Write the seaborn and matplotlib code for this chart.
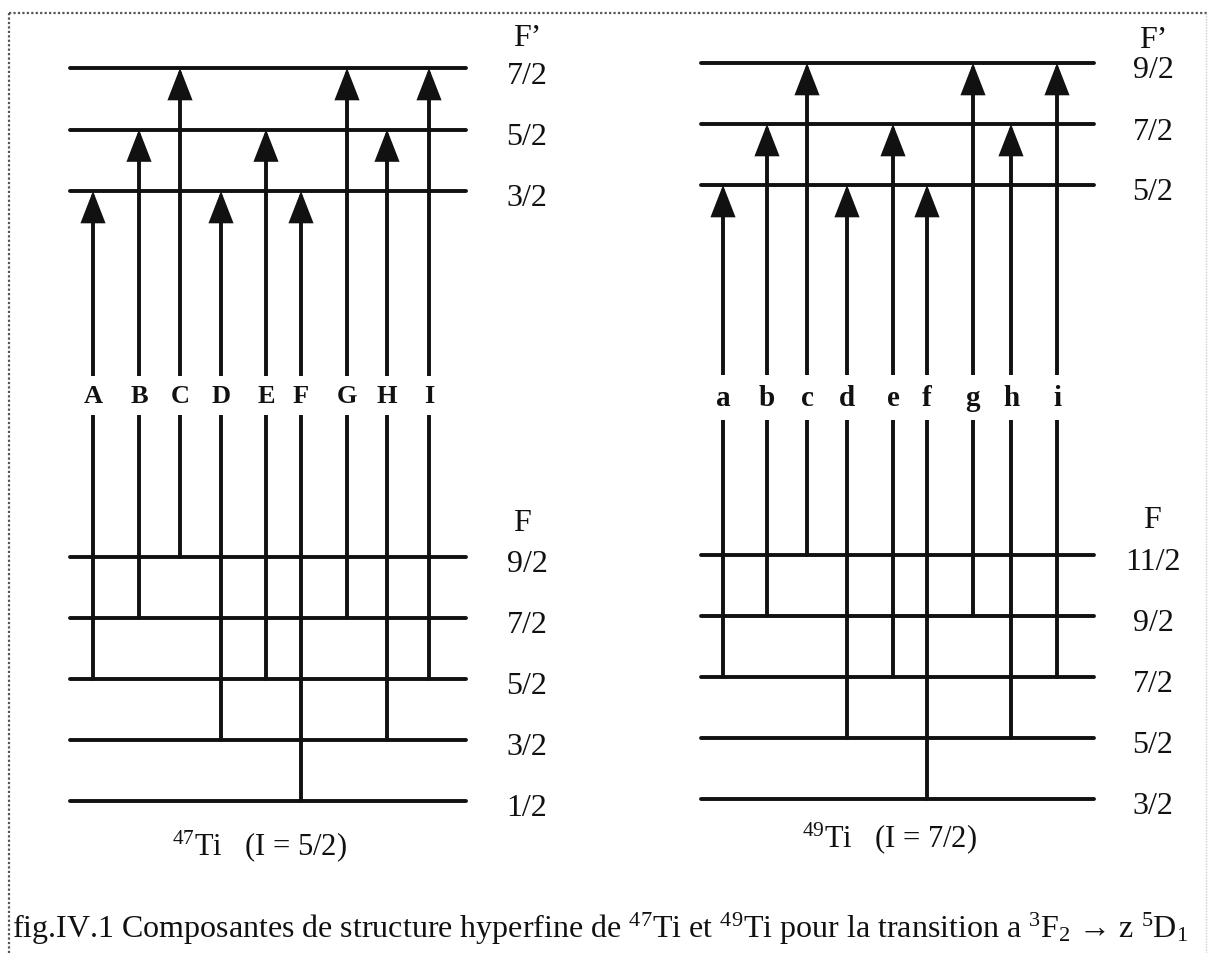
import matplotlib
matplotlib.use("Agg")
import matplotlib.pyplot as plt
import seaborn as sns
import pandas as pd

# ---- level scheme data -------------------------------------------------
ti47_upper_F = ["7/2", "5/2", "3/2"]
ti47_lower_F = ["9/2", "7/2", "5/2", "3/2", "1/2"]
ti47_names = ["A", "B", "C", "D", "E", "F", "G", "H", "I"]
ti47_from = ["5/2", "7/2", "9/2", "3/2", "5/2", "1/2", "7/2", "3/2", "5/2"]
ti47_to = ["3/2", "5/2", "7/2", "3/2", "5/2", "3/2", "7/2", "5/2", "7/2"]

ti49_upper_F = ["9/2", "7/2", "5/2"]
ti49_lower_F = ["11/2", "9/2", "7/2", "5/2", "3/2"]
ti49_names = ["a", "b", "c", "d", "e", "f", "g", "h", "i"]
ti49_from = ["7/2", "9/2", "11/2", "5/2", "7/2", "3/2", "9/2", "5/2", "7/2"]
ti49_to = ["5/2", "7/2", "9/2", "5/2", "7/2", "5/2", "9/2", "7/2", "9/2"]

isotope_titles = [r"$^{47}$Ti   (I = 5/2)", r"$^{49}$Ti   (I = 7/2)"]
caption = (r"fig.IV.1 Composantes de structure hyperfine de $^{47}$Ti et "
           r"$^{49}$Ti pour la transition a $^{3}$F$_{2}$ → z $^{5}$D$_{1}$")

# ---- style -------------------------------------------------------------
sns.set_theme(style="white")
SERIF = ["Liberation Serif", "DejaVu Serif"]
plt.rcParams["font.family"] = SERIF
plt.rcParams["mathtext.fontset"] = "custom"
plt.rcParams["mathtext.rm"] = "Liberation Serif"
plt.rcParams["mathtext.it"] = "Liberation Serif:italic"
plt.rcParams["mathtext.bf"] = "Liberation Serif:bold"

W, H = 1209, 954
fig = plt.figure(figsize=(W / 100, H / 100), dpi=100)
ax = fig.add_axes([0, 0, 1, 1])

LW = 2.8
INK = "#111111"
FS = 23
LABEL_DY = 7   # F values sit slightly below their level line

# panel geometry (pixel canvas)
panels = [
    dict(x0=70, x1=466, up_top=69, low_top=558, step_up=61.5, step_low=61,
         label_x=527, fp=(527, 38), f=(522, 524), letter_y=403, letter_fs=19,
         cols=[93, 139, 180, 221, 266, 301, 347, 387, 429],
         title=(259, 855),
         upper=ti47_upper_F, lower=ti47_lower_F, names=ti47_names,
         src=ti47_from, dst=ti47_to, title_txt=isotope_titles[0]),
    dict(x0=701, x1=1094, up_top=64, low_top=556, step_up=61, step_low=61,
         label_x=1153, fp=(1153, 40), f=(1152, 521), letter_y=406, letter_fs=21,
         cols=[723, 767, 807, 847, 893, 927, 973, 1011, 1057],
         title=(889, 847),
         upper=ti49_upper_F, lower=ti49_lower_F, names=ti49_names,
         src=ti49_from, dst=ti49_to, title_txt=isotope_titles[1]),
]

rows = []
for p_i, p in enumerate(panels):
    p["yu"] = {F: p["up_top"] + k * p["step_up"] for k, F in enumerate(p["upper"])}
    p["yl"] = {F: p["low_top"] + k * p["step_low"] for k, F in enumerate(p["lower"])}
    for F, y in p["yu"].items():
        rows += [dict(lvl=f"{p_i}u{F}", x=p["x0"], y=y), dict(lvl=f"{p_i}u{F}", x=p["x1"], y=y)]
    for F, y in p["yl"].items():
        rows += [dict(lvl=f"{p_i}l{F}", x=p["x0"], y=y), dict(lvl=f"{p_i}l{F}", x=p["x1"], y=y)]
levels = pd.DataFrame(rows)

# horizontal hyperfine levels
sns.lineplot(data=levels, x="x", y="y", units="lvl", estimator=None,
             color=INK, lw=LW, ax=ax, legend=False, sort=False)
ax.set_xlim(0, W)
ax.set_ylim(H, 0)
ax.axis("off")

for p in panels:
    # F values of each level
    for F, y in list(p["yu"].items()) + list(p["yl"].items()):
        ax.text(p["label_x"], y + LABEL_DY, F, fontsize=FS, ha="center",
                va="center", color=INK)
    ax.text(*p["fp"], "F’", fontsize=FS, ha="center", va="center", color=INK)
    ax.text(*p["f"], "F", fontsize=FS, ha="center", va="center", color=INK)

    # transitions F -> F'
    for x, name, a, b in zip(p["cols"], p["names"], p["src"], p["dst"]):
        y0 = p["yl"][a]
        y1 = p["yu"][b]
        ax.annotate("", xy=(x, y1), xytext=(x, y0),
                    arrowprops=dict(arrowstyle="-|>,head_length=18,head_width=7",
                                    mutation_scale=1, lw=LW, color=INK,
                                    shrinkA=0, shrinkB=0, joinstyle="miter"),
                    zorder=3)
        ax.text(x, p["letter_y"], name, fontsize=p["letter_fs"], fontweight="bold",
                ha="center", va="baseline", color=INK, zorder=5,
                bbox=dict(boxstyle="square,pad=0.3", fc="white", ec="none"))

    ax.text(*p["title"], p["title_txt"], fontsize=22, ha="center",
            va="baseline", color=INK)

ax.text(12, 938, caption, fontsize=23, ha="left", va="baseline", color=INK)

# dotted frame
ax.plot([9, W], [14, 14], color="#555555", lw=1.6, ls=(0, (1, 1)))
ax.plot([9, 9], [14, H], color="#555555", lw=1.6, ls=(0, (1, 1)))
ax.plot([W - 3, W - 3], [14, H], color="#cccccc", lw=1.0, ls=(0, (1, 1)))

fig.savefig("out.png", dpi=100, facecolor="white")
